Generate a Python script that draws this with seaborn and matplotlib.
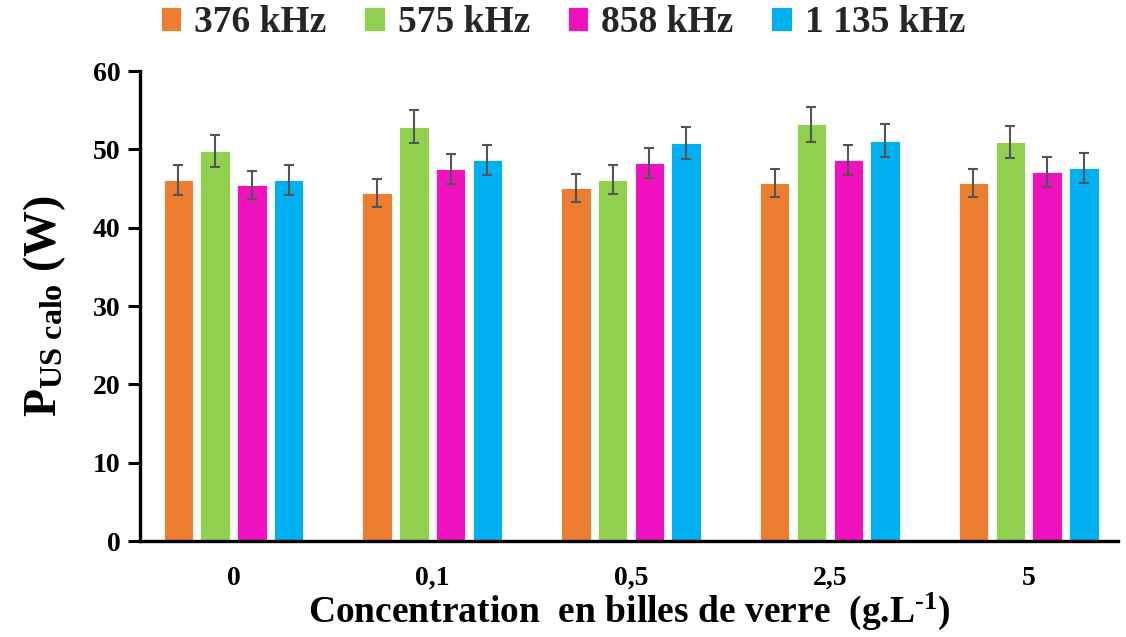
#!/usr/bin/env python3
"""
Purpose: P_US calo vs glass bead concentration, grouped bars
"""

import matplotlib
matplotlib.use('Agg')
import matplotlib.pyplot as plt
import numpy as np
import pandas as pd
import seaborn as sns

# --------------------------------------------------
concentrations = ['0', '0,1', '0,5', '2,5', '5']
frequencies = ['376 kHz', '575 kHz', '858 kHz', '1 135 kHz']

p_376 = [46.1, 44.4, 45.1, 45.7, 45.7]
p_575 = [49.8, 52.9, 46.1, 53.2, 50.9]
p_858 = [45.4, 47.5, 48.3, 48.6, 47.1]
p_1135 = [46.1, 48.6, 50.8, 51.1, 47.6]

err_376 = [1.9, 1.8, 1.8, 1.8, 1.8]
err_575 = [2.0, 2.1, 1.85, 2.2, 2.05]
err_858 = [1.8, 1.9, 1.9, 1.9, 1.9]
err_1135 = [1.9, 1.9, 2.0, 2.1, 1.9]

colors = ['#ED7D31', '#92D050', '#F012BE', '#00B0F0']


# --------------------------------------------------
def main():
    """Draw the chart"""
    sns.set_theme(style='ticks')
    plt.rcParams['font.family'] = ['Liberation Serif', 'DejaVu Serif']
    plt.rcParams['font.weight'] = 'bold'
    plt.rcParams['mathtext.fontset'] = 'custom'
    plt.rcParams['mathtext.rm'] = 'Liberation Serif:bold'
    plt.rcParams['mathtext.bf'] = 'Liberation Serif:bold'
    plt.rcParams['mathtext.it'] = 'Liberation Serif:italic:bold'

    values = [p_376, p_575, p_858, p_1135]
    errors = [err_376, err_575, err_858, err_1135]
    df = pd.DataFrame({
        'conc': concentrations * len(frequencies),
        'freq': np.repeat(frequencies, len(concentrations)),
        'value': np.concatenate(values),
    })

    fig, ax = plt.subplots(figsize=(11.26, 6.37), dpi=100)
    fig.subplots_adjust(left=0.1243, right=0.993, bottom=0.1507, top=0.8885)

    sns.barplot(data=df, x='conc', y='value', hue='freq',
                order=concentrations, hue_order=frequencies,
                palette=colors, saturation=1, width=0.74, gap=0.2,
                errorbar=None, edgecolor='white', linewidth=0.6, ax=ax)

    for cont, err in zip(ax.containers, errors):
        xs = [b.get_x() + b.get_width() / 2 for b in cont]
        ys = [b.get_height() for b in cont]
        ax.errorbar(xs, ys, yerr=err, fmt='none', ecolor='#555555',
                    elinewidth=1.5, capsize=3.5, capthick=1.5, zorder=5)

    ax.set_ylim(0, 60)
    ax.set_yticks(range(0, 61, 10))
    ax.set_xlim(-0.47, 4.45)
    sns.despine(ax=ax)
    for side in ['left', 'bottom']:
        ax.spines[side].set_linewidth(2.4)
        ax.spines[side].set_color('black')
    ax.tick_params(axis='y', length=9, width=2.2, labelsize=20, pad=5,
                   color='black', labelcolor='black')
    ax.tick_params(axis='x', length=0, labelsize=20, pad=18,
                   labelcolor='black')

    ax.set_xlabel(r'Concentration  en billes de verre  (g.L$^{\text{-1}}$)',
                  fontsize=27, fontweight='bold', labelpad=0, color='black')
    ax.set_ylabel(r'P$_{\rm US\ calo}$ (W)', fontsize=33, fontweight='bold',
                  labelpad=18, color='black')

    handles, labels = ax.get_legend_handles_labels()
    ax.legend_.remove()
    fig.legend(handles, labels, loc='upper center', ncol=4, frameon=False,
               bbox_to_anchor=(0.5, 1.045), prop={'size': 27, 'weight': 'bold'},
               handlelength=0.55, handleheight=0.6, handletextpad=0.35,
               columnspacing=1.0)

    fig.savefig('out.png', dpi=100)


# --------------------------------------------------
if __name__ == '__main__':
    main()
